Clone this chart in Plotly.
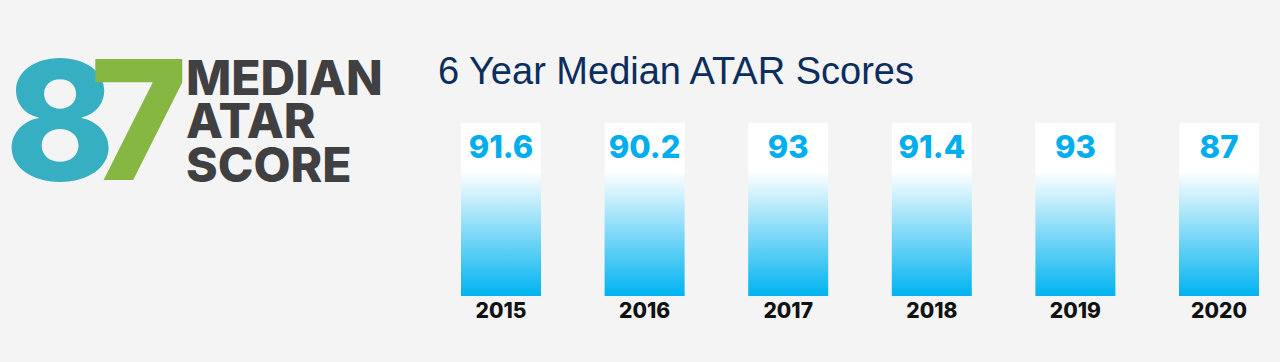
import plotly.graph_objects as go

years = ["2015", "2016", "2017", "2018", "2019", "2020"]
scores = [91.6, 90.2, 93, 91.4, 93, 87]
headline_value = "87"
headline_words = ["MEDIAN", "ATAR", "SCORE"]
title_text = "6 Year Median ATAR Scores"

BG = "#F4F4F4"
W, H = 1280, 362
L, R, T, B = 440, 0, 123, 66
pw = W - L - R
ph = H - T - B
unit = 143.6
x_first = 501
xr0 = -(x_first - L) / unit
xr1 = (W - R - x_first) / unit
bar_w = 80 / unit

# build rectangles (one trace with gaps) from category positions
xs, ys = [], []
for i, _ in enumerate(years):
    x0, x1 = i - bar_w / 2, i + bar_w / 2
    xs += [x0, x1, x1, x0, x0, None]
    ys += [0, 0, 1, 1, 0, None]

fig = go.Figure()
fig.add_trace(go.Scatter(
    x=xs, y=ys, mode="lines", fill="toself",
    line=dict(width=0, color="rgba(0,0,0,0)"),
    fillgradient=dict(type="vertical",
                      colorscale=[[0, "#00B3F0"], [0.72, "#FFFFFF"], [1, "#FFFFFF"]]),
    hoverinfo="skip", showlegend=False,
))
fig.add_trace(go.Scatter(
    x=list(range(len(years))), y=[0.845] * len(years),
    mode="text", text=[f"{v:g}" for v in scores],
    textposition="middle center",
    textfont=dict(family="Inter", size=31, color="#00AEEF", weight=800),
    cliponaxis=False, hoverinfo="skip", showlegend=False,
))

def px(xp):
    return (xp - L) / pw

def py(yp):
    return (H - B - yp) / ph

digit_colors = ["#36AFC2", "#86B742"]
digit_left = [3, 88]
annotations = [
    dict(xref="paper", yref="paper", x=px(436), y=py(71), xanchor="left", yanchor="middle",
         text=title_text, showarrow=False,
         font=dict(family="Liberation Sans", size=38, color="#0B2E5E")),
]
for d, c, xl in zip(headline_value, digit_colors, digit_left):
    annotations.append(dict(
        xref="paper", yref="paper", x=px(xl), y=py(119), xanchor="left", yanchor="middle",
        text=d, showarrow=False,
        font=dict(family="Inter", size=166, weight=800, color=c)))
for k, wd in enumerate(headline_words):
    annotations.append(dict(
        xref="paper", yref="paper", x=px(184), y=py(77.5 + 43.5 * k),
        xanchor="left", yanchor="middle", text=wd, showarrow=False,
        font=dict(family="Inter", size=48, weight=800, color="#404042")))

fig.update_layout(
    width=W, height=H,
    margin=dict(l=L, r=R, t=T, b=B),
    paper_bgcolor=BG, plot_bgcolor=BG,
    xaxis=dict(range=[xr0, xr1], tickmode="array",
               tickvals=list(range(len(years))), ticktext=years,
               showgrid=False, zeroline=False, showline=False, ticks="",
               tickfont=dict(family="Inter", size=21, weight=800, color="#111111"),
               fixedrange=True),
    yaxis=dict(range=[0, 1], visible=False, fixedrange=True),
    annotations=annotations,
    showlegend=False,
)

fig.write_html("out.html", config={"displayModeBar": False},
               post_script="document.body.style.margin='0';document.body.style.background='#F4F4F4';")
